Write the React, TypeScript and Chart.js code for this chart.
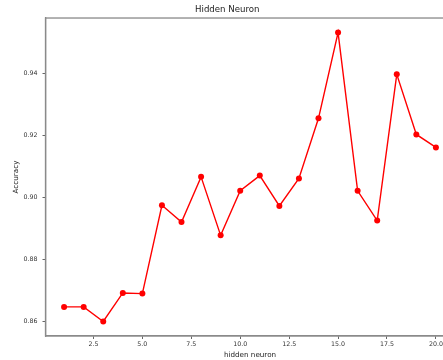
import React, { useEffect, useRef } from "react";
import { Chart, registerables } from "chart.js";

Chart.register(...registerables);

const hiddenNeurons = [1, 2, 3, 4, 5, 6, 7, 8, 9, 10, 11, 12, 13, 14, 15, 16, 17, 18, 19, 20];
const accuracy = [
  0.8646, 0.8646, 0.8599, 0.8691, 0.8689, 0.8974, 0.892, 0.9066, 0.8877, 0.9021,
  0.907, 0.8972, 0.9061, 0.9255, 0.9532, 0.9021, 0.8925, 0.9397, 0.9203, 0.9161,
];
const xTicks = [2.5, 5.0, 7.5, 10.0, 12.5, 15.0, 17.5, 20.0];
const yTicks = [0.86, 0.88, 0.9, 0.92, 0.94];

const FONT = "'DejaVu Sans', sans-serif";

const framePlugin = {
  id: "frame",
  afterDatasetsDraw(chart: any) {
    const { ctx, chartArea } = chart;
    ctx.save();
    ctx.strokeStyle = "#8a8a8a";
    ctx.lineWidth = 1.3;
    ctx.strokeRect(chartArea.left, chartArea.top, chartArea.right - chartArea.left, chartArea.bottom - chartArea.top);
    ctx.restore();
  },
};

export default function App() {
  const ref = useRef<HTMLCanvasElement>(null);
  useEffect(() => {
    if (!ref.current) return;
    const chart = new Chart(ref.current, {
      type: "line",
      data: {
        datasets: [
          {
            label: "Accuracy",
            data: hiddenNeurons.map((x, i) => ({ x, y: accuracy[i] })),
            borderColor: "#ff0000",
            backgroundColor: "#ff0000",
            borderWidth: 1.4,
            pointRadius: 3,
            pointBorderWidth: 0,
            pointBackgroundColor: "#ff0000",
            tension: 0,
          },
        ],
      },
      options: {
        responsive: false,
        animation: false,
        devicePixelRatio: 1,
        layout: { padding: { left: 0, right: 25.5, top: 0, bottom: 0 } },
        plugins: {
          legend: { display: false },
          tooltip: { enabled: false },
          title: {
            display: true,
            text: "Hidden Neuron",
            color: "#222",
            font: { family: FONT, size: 8.6, weight: "normal" as any, lineHeight: 1.2 },
            padding: { top: 5, bottom: 2.7 },
          },
        },
        scales: {
          x: {
            type: "linear",
            min: 0.05,
            max: 20.95,
            afterBuildTicks: (s: any) => {
              s.ticks = xTicks.map((v) => ({ value: v }));
            },
            afterFit: (s: any) => {
              s.height = 24;
            },
            ticks: {
              autoSkip: false,
              maxRotation: 0,
              color: "#333",
              padding: 1.5,
              font: { family: FONT, size: 6.3 },
              callback: (v: any) => Number(v).toFixed(1),
            },
            grid: { display: true, drawOnChartArea: false, drawTicks: true, tickLength: 3, color: "#666" },
            border: { display: true, color: "#8a8a8a", width: 1.3 },
            title: {
              display: true,
              text: "hidden neuron",
              color: "#222",
              font: { family: FONT, size: 7.2, lineHeight: 1.2 },
              padding: { top: 0, bottom: 0.8 },
            },
          },
          y: {
            type: "linear",
            min: 0.8552,
            max: 0.9579,
            afterBuildTicks: (s: any) => {
              s.ticks = yTicks.map((v) => ({ value: v }));
            },
            afterFit: (s: any) => {
              s.width = 45.5;
            },
            ticks: {
              autoSkip: false,
              color: "#333",
              padding: 5,
              font: { family: FONT, size: 6.3 },
              callback: (v: any) => Number(v).toFixed(2),
            },
            grid: { display: true, drawOnChartArea: false, drawTicks: true, tickLength: 3, color: "#666" },
            border: { display: true, color: "#8a8a8a", width: 1.3 },
            title: {
              display: true,
              text: "Accuracy",
              color: "#222",
              font: { family: FONT, size: 7.2, lineHeight: 1.2 },
              padding: { top: 12, bottom: 0 },
            },
          },
        },
      },
      plugins: [framePlugin],
    });
    return () => chart.destroy();
  }, []);
  return (
    <div style={{ position: "fixed", left: 0, top: 0, width: 443, height: 360, overflow: "hidden", background: "#fff" }}>
      <canvas ref={ref} width={480} height={360} style={{ display: "block", width: 480, height: 360 }} />
    </div>
  );
}
